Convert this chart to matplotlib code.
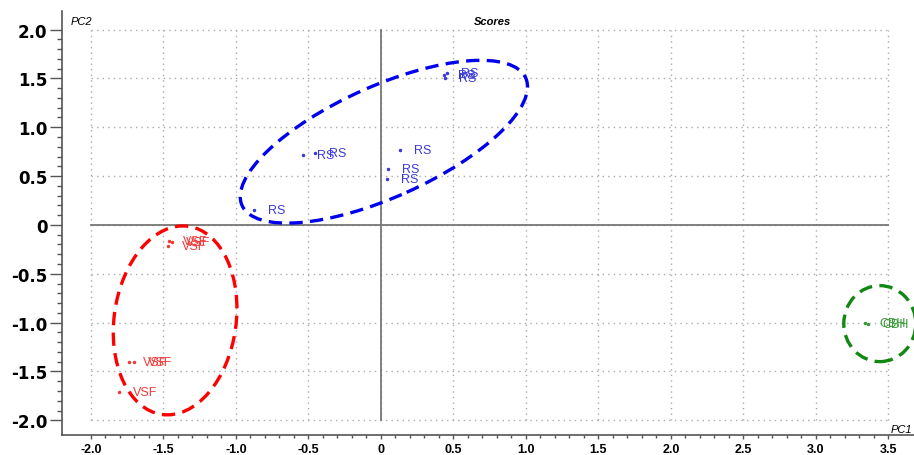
import numpy as np
import matplotlib
matplotlib.use('Agg')
import matplotlib.pyplot as plt
from matplotlib.patches import Ellipse
from matplotlib.transforms import ScaledTranslation
from matplotlib.ticker import FixedLocator, FuncFormatter

# scores (PC1, PC2) per group
rs_x = [-0.876, -0.54, -0.455, 0.131, 0.05, 0.039, 0.434, 0.441, 0.457]
rs_y = [0.152, 0.72, 0.74, 0.772, 0.576, 0.472, 1.533, 1.506, 1.558]
vsf_x = [-1.46, -1.44, -1.47, -1.736, -1.703, -1.805]
vsf_y = [-0.16, -0.17, -0.22, -1.406, -1.406, -1.709]
cbh_x = [3.34, 3.36]
cbh_y = [-1.0, -1.01]

groups = [
    ("RS", rs_x, rs_y, "#3a3ad8"),
    ("VSF", vsf_x, vsf_y, "#f03a3a"),
    ("CBH", cbh_x, cbh_y, "#3a9a3a"),
]

# confidence ellipses: centre in data units, size in pixels, angle in degrees
ell_center = [(0.02, 0.852), (-1.42, -0.977), (3.44, -1.01)]
ell_size = [(311, 111), (122, 190), (72, 76)]
ell_angle = [24.2, -8, 0]
ell_color = ["#0000ee", "#ff0000", "#118811"]

major = np.arange(-2.0, 2.01, 0.5)
xmajor = np.arange(-2.0, 3.51, 0.5)

fig = plt.figure(figsize=(9.14, 4.56), dpi=100)
ax = fig.add_axes([62 / 914, 20 / 456, 1 - 62 / 914, 424 / 456])
ax.set_xlim(-2.2, 3.676)
ax.set_ylim(-2.15, 2.19)

# dotted grid limited to the data box
for v in major:
    ax.plot([-2.0, 3.5], [v, v], color="#aaaaaa", lw=1, ls=(0, (1, 3)), zorder=0)
for v in xmajor:
    ax.plot([v, v], [-2.0, 2.0], color="#aaaaaa", lw=1, ls=(0, (1, 3)), zorder=0)
ax.plot([-2.0, 3.5], [0, 0], color="#777777", lw=1.3, zorder=1)
ax.plot([0, 0], [-2.0, 2.0], color="#777777", lw=1.3, zorder=1)

for name, xs, ys, col in groups:
    ax.plot(xs, ys, ls="none", marker="o", ms=1.5, color=col, zorder=3)
    for x, y in zip(xs, ys):
        ax.annotate(name, (x, y), xytext=(10, 0), textcoords="offset points",
                    va="center", ha="left", fontsize=9, color=col,
                    family="Liberation Sans", zorder=4)

for c, s, a, col in zip(ell_center, ell_size, ell_angle, ell_color):
    tr = fig.dpi_scale_trans + ScaledTranslation(c[0], c[1], ax.transData)
    e = Ellipse((0, 0), s[0] / 100, s[1] / 100, angle=a, transform=tr,
                fill=False, edgecolor=col, lw=2.4, ls=(0, (4, 2.2)), zorder=5)
    ax.add_patch(e)

for sp in ["top", "right"]:
    ax.spines[sp].set_visible(False)
for sp in ["left", "bottom"]:
    ax.spines[sp].set_color("#555555")
    ax.spines[sp].set_linewidth(1.2)

fmt = FuncFormatter(lambda v, p: "0" if abs(v) < 1e-9 else f"{v:.1f}")
ax.yaxis.set_major_locator(FixedLocator(major))
ax.yaxis.set_minor_locator(FixedLocator(np.arange(-2.0, 2.01, 0.1)))
ax.yaxis.set_major_formatter(fmt)
ax.xaxis.set_major_locator(FixedLocator(xmajor))
ax.xaxis.set_minor_locator(FixedLocator(np.arange(-2.0, 3.51, 0.1)))
ax.xaxis.set_major_formatter(fmt)

ax.tick_params(axis="y", which="major", direction="out", length=8.5, width=1,
               color="#555555", pad=2, labelsize=12)
ax.tick_params(axis="y", which="minor", direction="out", length=3.6, width=1,
               color="#555555")
ax.tick_params(axis="x", which="major", direction="out", length=3, width=1,
               color="#555555", pad=3, labelsize=9)
ax.tick_params(axis="x", which="minor", direction="out", length=2, width=1,
               color="#555555")
for t in ax.get_yticklabels():
    t.set_fontweight("bold")
    t.set_family("DejaVu Sans")
for t in ax.get_xticklabels():
    t.set_fontweight("bold")
    t.set_family("Liberation Sans")

ax.text(81, 456 - 22, "PC2", transform=None, fontsize=8, style="italic",
        family="Liberation Sans", ha="center", va="center")
ax.text(492, 456 - 22, "Scores", transform=None, fontsize=8, style="italic",
        fontweight="bold", family="Liberation Sans", ha="center", va="center")
ax.text(901, 456 - 430, "PC1", transform=None, fontsize=8, style="italic",
        family="Liberation Sans", ha="center", va="center")

fig.savefig("out.png", dpi=100)
